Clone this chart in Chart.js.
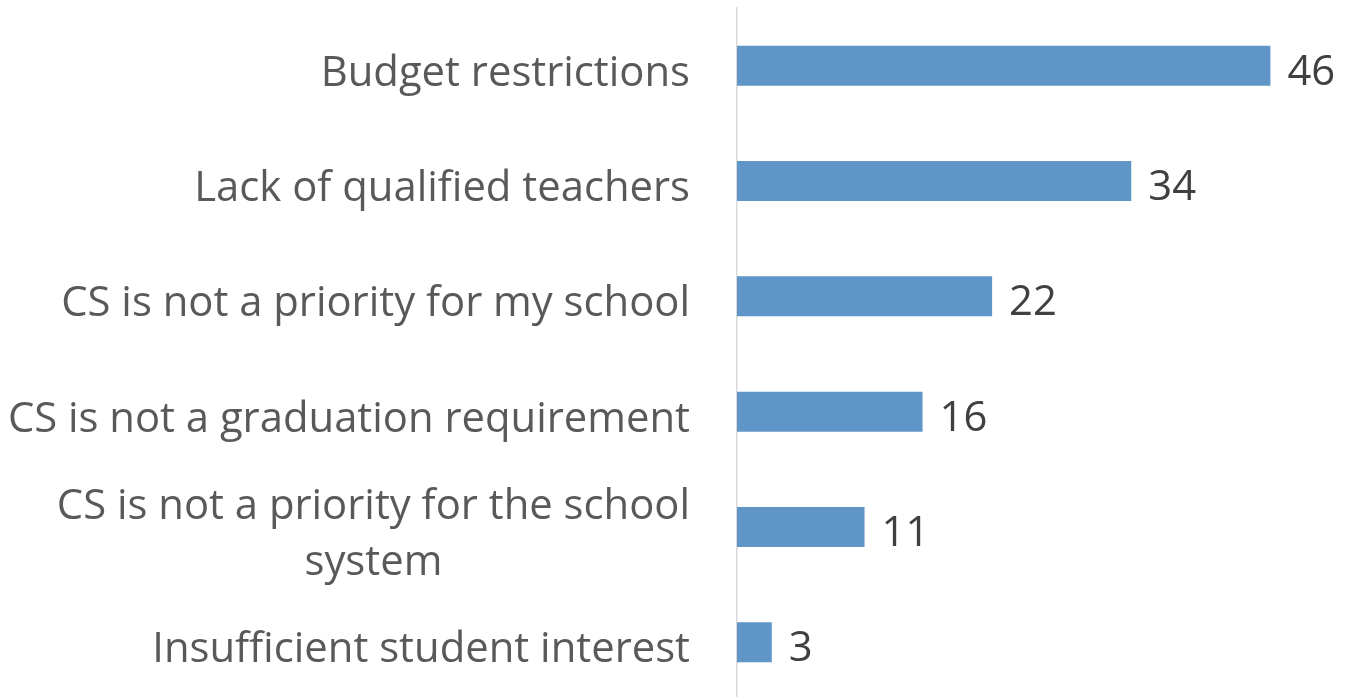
<!DOCTYPE html>
<html>
<head>
<meta charset="utf-8">
<script src="https://cdn.jsdelivr.net/npm/chart.js@4.4.1/dist/chart.umd.min.js"></script>
<style>
  html, body { margin: 0; padding: 0; background: #ffffff; overflow: hidden; }
  #wrap { position: relative; width: 1345px; height: 700px; }
</style>
</head>
<body>
<div id="wrap"><canvas id="chart"></canvas></div>
<script>
// Reasons schools do not offer computer science
const categories = [
  ["Budget restrictions"],
  ["Lack of qualified teachers"],
  ["CS is not a priority for my school"],
  ["CS is not a graduation requirement"],
  ["CS is not a priority for the school", "system"],
  ["Insufficient student interest"]
];
const responses = [46, 34, 22, 16, 11, 3];

const FONT = '"Open Sans", "Liberation Sans", sans-serif';
const LABEL_SIZE = 41.8;
const LABEL_LINE = 56;
const AXIS_X = 737;

// Category labels: each line centred on the label block, block right-aligned to the axis
const categoryLabels = {
  id: 'categoryLabels',
  afterDraw(chart) {
    const ctx = chart.ctx;
    const y = chart.scales.y;
    ctx.save();
    ctx.font = LABEL_SIZE + 'px ' + FONT;
    ctx.fillStyle = '#595959';
    ctx.textBaseline = 'middle';
    ctx.textAlign = 'center';
    const right = y.right - 47;
    categories.forEach((lines, i) => {
      const cy = y.getPixelForTick(i) + 8;
      const w = Math.max(...lines.map(l => ctx.measureText(l).width));
      const cx = right - w / 2;
      const top = cy - (lines.length - 1) * LABEL_LINE / 2;
      lines.forEach((l, k) => ctx.fillText(l, cx, top + k * LABEL_LINE));
    });
    ctx.restore();
  }
};

// Value labels at the end of each bar
const valueLabels = {
  id: 'valueLabels',
  afterDatasetsDraw(chart) {
    const ctx = chart.ctx;
    const meta = chart.getDatasetMeta(0);
    ctx.save();
    ctx.font = LABEL_SIZE + 'px ' + FONT;
    ctx.fillStyle = '#404040';
    ctx.textBaseline = 'middle';
    ctx.textAlign = 'left';
    meta.data.forEach((bar, i) => {
      ctx.fillText(String(responses[i]), bar.x + 17, bar.y + 7);
    });
    ctx.restore();
  }
};

new Chart(document.getElementById('chart'), {
  type: 'bar',
  data: {
    labels: categories,
    datasets: [{
      data: responses,
      backgroundColor: '#5F95C7',
      borderWidth: 0,
      categoryPercentage: 1,
      barPercentage: 0.347
    }]
  },
  options: {
    indexAxis: 'y',
    responsive: true,
    maintainAspectRatio: false,
    animation: false,
    layout: { padding: { top: 8, right: 5, bottom: 0, left: 0 } },
    plugins: {
      legend: { display: false },
      tooltip: { enabled: false }
    },
    scales: {
      x: {
        display: false,
        min: 0,
        max: 52
      },
      y: {
        grid: { display: false, drawTicks: false },
        border: { display: true, color: '#D9D9D9', width: 1.5 },
        ticks: { display: false },
        afterFit(scale) { scale.width = AXIS_X; }
      }
    }
  },
  plugins: [categoryLabels, valueLabels]
});
</script>
</body>
</html>
